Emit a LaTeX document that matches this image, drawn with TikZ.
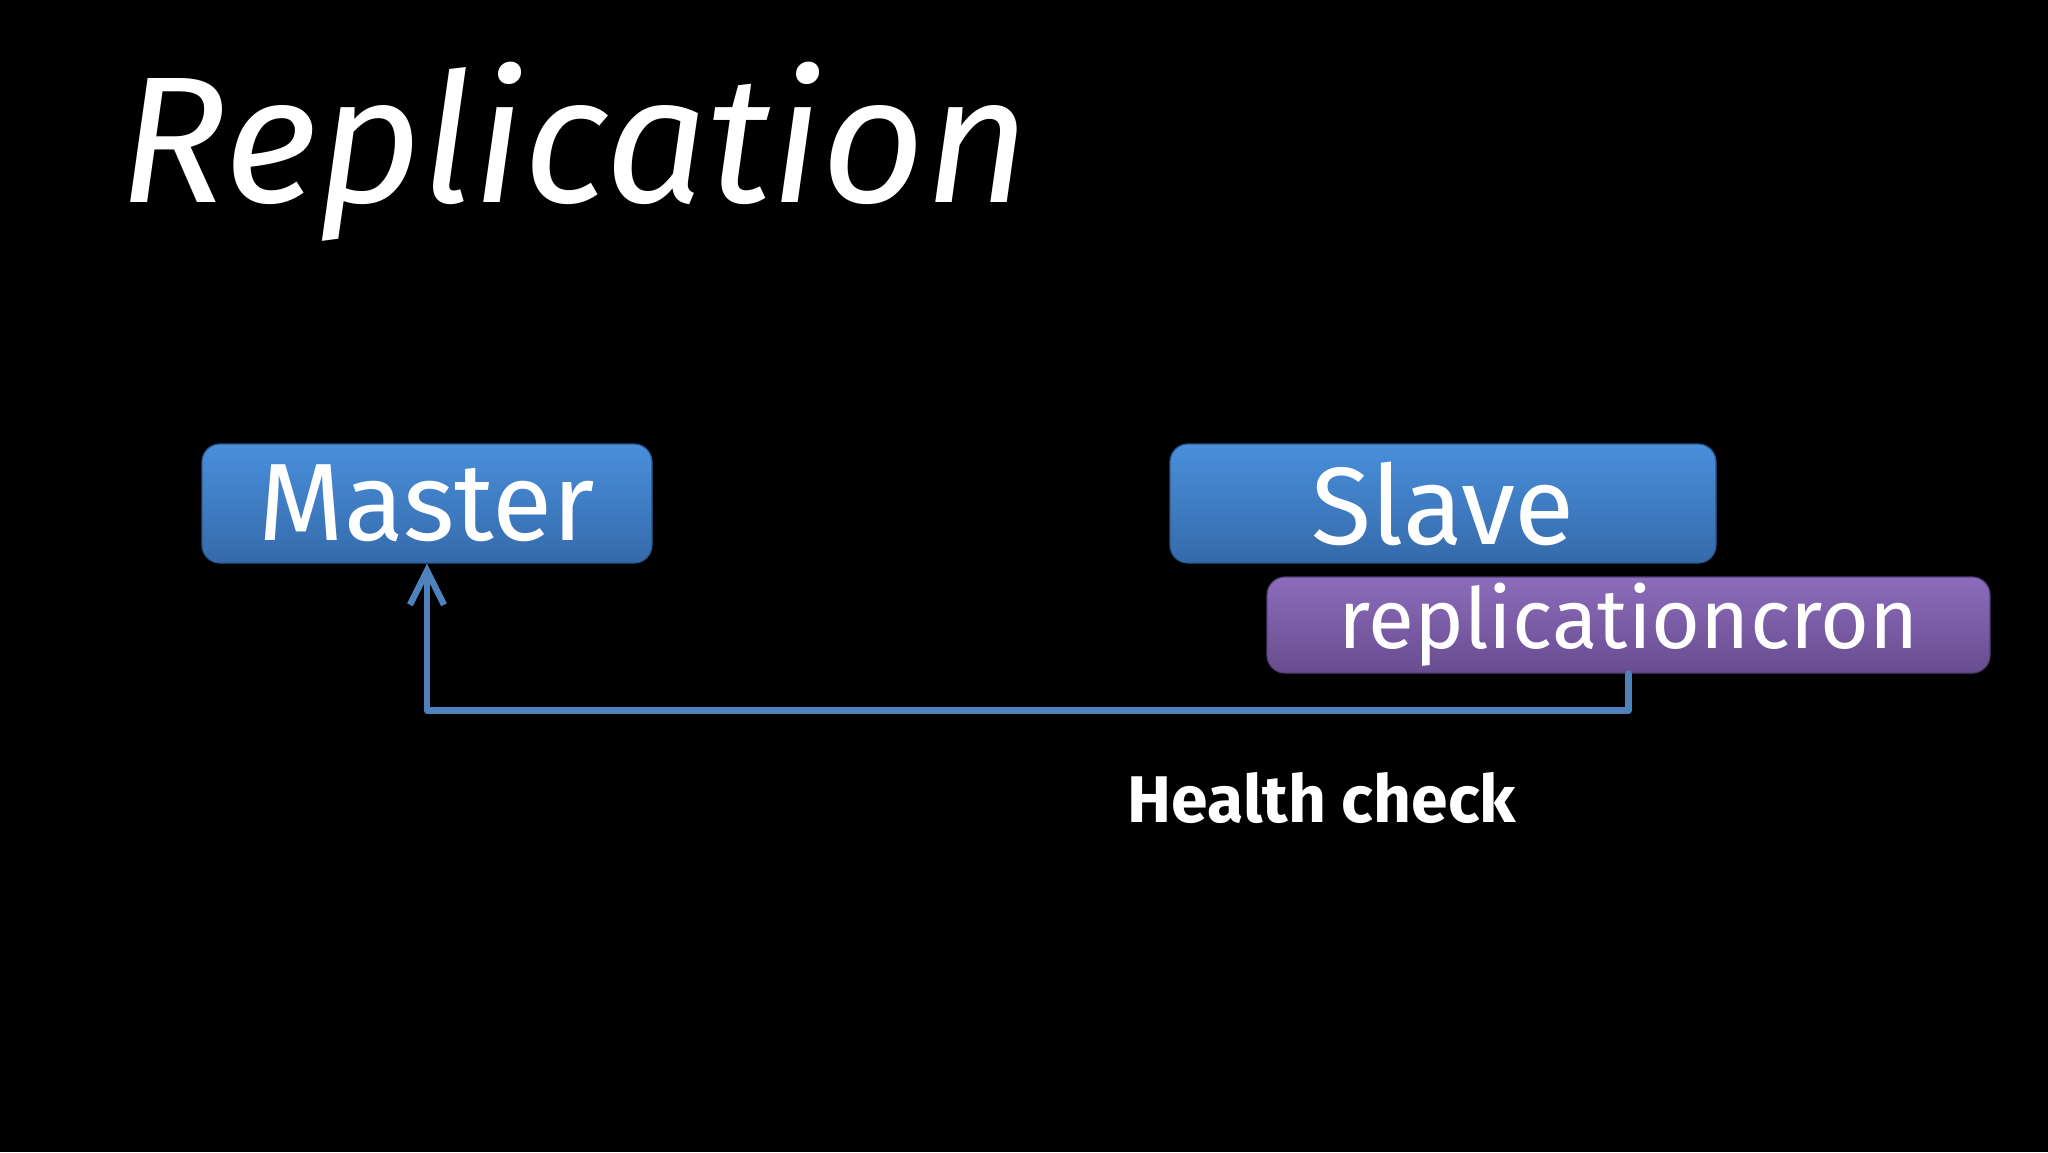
\documentclass[tikz,border=0pt]{standalone}
\usepackage{fontspec}
\setmainfont{Fira Sans}
\usetikzlibrary{arrows.meta}
\definecolor{boxblue}{HTML}{3E7DC8}
\definecolor{boxbluetop}{HTML}{4A8FDC}
\definecolor{boxpurple}{HTML}{7A5AA8}
\definecolor{boxpurpletop}{HTML}{8C6CBC}
\definecolor{linkblue}{HTML}{4F81BD}
\begin{document}
\begin{tikzpicture}[x=0.5pt,y=-0.5pt,
  box/.style={rectangle,rounded corners=9pt,text=white,inner sep=0pt},
  bluebox/.style={box,top color=boxbluetop,bottom color=boxblue!85!black,draw=boxblue!70!black,line width=0.6pt},
  purplebox/.style={box,top color=boxpurpletop,bottom color=boxpurple!85!black,draw=boxpurple!70!black,line width=0.6pt},
  link/.style={draw=linkblue,line width=3.2pt,line cap=round,line join=round}]
  \fill[black] (0,0) rectangle (2048,1152);
  \useasboundingbox (0,0) rectangle (2048,1152);
  \node[anchor=base west,text=white,font=\fontsize{90}{94}\selectfont\itshape] (title) at (112,202) {Replication};
  \node[bluebox,minimum width=225pt,minimum height=59.5pt,font=\fontsize{55}{58}\selectfont] (master) at (427,503.5) {Master};
  \node[bluebox,minimum width=273pt,minimum height=59.5pt,font=\fontsize{55}{58}\selectfont] (slave) at (1443,503.5) {Slave};
  \node[purplebox,minimum width=361.5pt,minimum height=48pt,font=\fontsize{42}{46}\selectfont] (cron) at (1628.5,625) {replicationcron};
  \node[text=white,font=\fontsize{33}{36}\selectfont\bfseries] (health) at (1322,798) {Health check};
  \draw[link,-{Straight Barb[length=17pt,width=17pt]}] (cron.south) -- ++(0,37) -| (master.south);
\end{tikzpicture}
\end{document}
